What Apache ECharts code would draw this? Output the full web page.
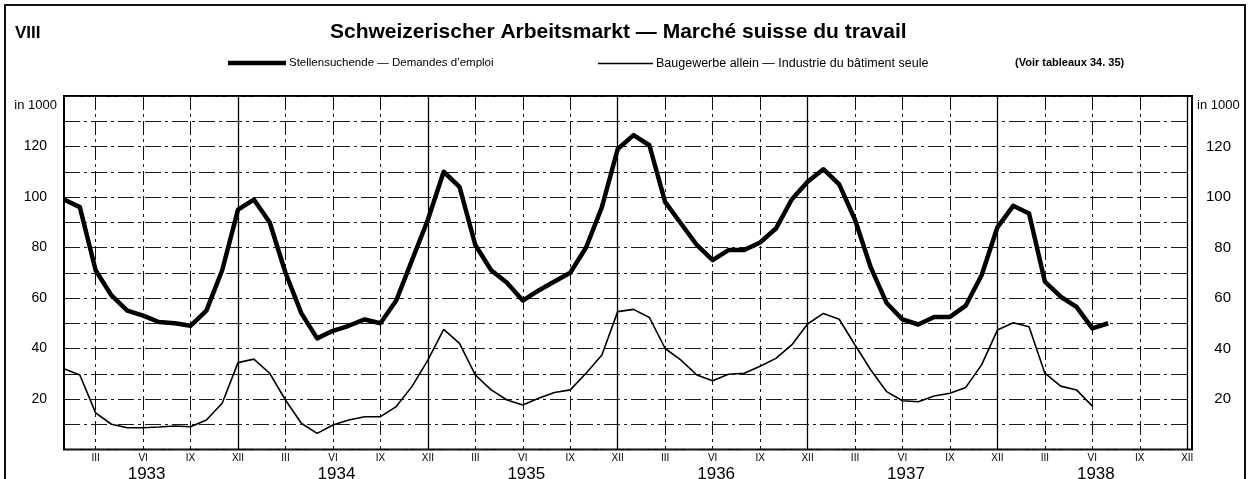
<!DOCTYPE html>
<html><head><meta charset="utf-8">
<script src="https://cdn.jsdelivr.net/npm/echarts@6/dist/echarts.min.js"></script>
<style>
html,body{margin:0;padding:0;background:#fff;}
#c{width:1257px;height:479px;}
#frame{position:absolute;left:4px;top:4px;width:1238px;height:520px;border:2px solid #111;pointer-events:none;z-index:2;}
</style>
</head><body><div id="frame"></div><div id="c"></div>
<script>
// ---- data (thousands) ----
const years = ['1933','1934','1935','1936','1937','1938'];
const quarterMonthIndex = [2, 5, 8, 11];
const quarterLabels = ['III', 'VI', 'IX', 'XII'];
const yLabelTicks = [20, 40, 60, 80, 100, 120];
const unitLabel = 'in 1000';
const seriesNames = ['Stellensuchende — Demandes d\u2019emploi', 'Baugewerbe allein — Industrie du bâtiment seule'];
// Stellensuchende, Jan 1933 .. Jul 1938
const stellensuchende = [
  99, 96, 71, 61, 55, 53, 50.5, 50, 49, 55, 71, 95,
  99, 90, 70, 54, 44, 47, 49, 51.5, 50, 59, 75, 91,
  110, 104, 81, 71, 66, 59, 63, 66.5, 70, 80, 96, 119,
  124.5, 120.5, 98, 89.5, 81, 75, 79, 79, 82, 87.5, 99, 106,
  111, 105, 91, 72, 58, 51.5, 49.5, 52.5, 52.5, 57, 69, 88,
  96.5, 93.5, 66.5, 60.5, 56.5, 48, 50
];
// Baugewerbe allein, Jan 1933 .. Jun 1938
const baugewerbe = [
  32, 29.5, 14.5, 10, 8.6, 8.6, 8.9, 9.3, 9, 11.7, 18.3, 34.4,
  35.8, 30.2, 19.6, 10.4, 6.4, 9.7, 11.7, 13, 13, 17, 25, 35.4,
  47.6, 42, 29.5, 23.6, 19.6, 17.6, 20.3, 22.6, 23.6, 30.2, 37.4, 54.6,
  55.5, 52.3, 40, 35.4, 29.5, 27.2, 29.8, 30.2, 33, 36.1, 41.4, 49.7,
  53.9, 51.6, 41.4, 31.5, 22.9, 19.3, 18.9, 21.2, 22.3, 24.6, 33.5, 47.3,
  50.2, 48.6, 30.2, 25.1, 23.6, 17.2
];

const FONT = "'Liberation Sans', Arial, sans-serif";
const NARROW = "'Liberation Sans Narrow', 'Liberation Sans', Arial, sans-serif";
const chart = echarts.init(document.getElementById('c'), null, {renderer:'canvas'});

const transparent = 'rgba(0,0,0,0)';
const quarterColors = [transparent, transparent, '#111'];
const yearColors = []; for (let i = 0; i < 12; i++) yearColors.push(i === 11 ? '#000' : transparent);

function xLabel(v) {
  const m = Math.round(v);
  if (Math.abs(v - m) > 1e-6) return '';
  const q = quarterMonthIndex.indexOf(m % 12);
  if (q < 0) return '';
  const lab = quarterLabels[q];
  if (m % 12 === 5) return '{r|' + lab + '}\n{y|' + years[Math.floor(m / 12)] + '}';
  return '{r|' + lab + '}';
}
function yLabel(v) {
  if (v === 140) return '{u|' + unitLabel + '}';
  if (yLabelTicks.indexOf(v) >= 0) return '{n|' + v + '}';
  return '';
}

const option = {
  backgroundColor: 'transparent',
  animation: false,
  textStyle: {fontFamily: FONT, color: '#000'},
  title: [
    {text: 'VIII', left: 15, top: 25, padding: 0, textStyle: {fontFamily: NARROW, fontSize: 17, fontWeight: 'bold', color: '#000'}},
    {text: 'Schweizerischer Arbeitsmarkt — Marché suisse du travail', left: 330, top: 22, padding: 0,
     textStyle: {fontFamily: FONT, fontSize: 21, fontWeight: 'bold', color: '#000'}},
    {text: '(Voir tableaux 34. 35)', left: 1015, top: 57, padding: 0,
     textStyle: {fontFamily: NARROW, fontSize: 11, fontWeight: 'bold', color: '#000'}}
  ],
  legend: [
    {data: [seriesNames[0]], left: 228, top: 57, padding: 0, icon: 'rect', itemWidth: 58, itemHeight: 4.5, itemGap: 4,
     textStyle: {fontFamily: FONT, fontSize: 11.5, color: '#000', padding: [0, 0, 0, -2]}, selectedMode: false},
    {data: [seriesNames[1]], left: 598, top: 57, padding: 0, icon: 'rect', itemWidth: 55, itemHeight: 1.5, itemGap: 4,
     textStyle: {fontFamily: FONT, fontSize: 12.5, color: '#000', padding: [0, 0, 0, -2]}, selectedMode: false}
  ],
  grid: {left: 64, right: 65, top: 96, bottom: 29.5, show: true, borderColor: '#000', borderWidth: 2,
         backgroundColor: 'transparent', containLabel: false, outerBoundsMode: 'none'},
  xAxis: [
    {type: 'value', min: 0, max: 71.3, interval: 1, position: 'bottom',
     axisLine: {show: false}, axisTick: {show: false},
     splitLine: {show: true, lineStyle: {color: quarterColors, width: 1, type: [14, 4, 3, 4]}},
     axisLabel: {show: true, margin: 3, formatter: xLabel, color: '#000',
       rich: {r: {fontFamily: NARROW, fontSize: 10, lineHeight: 12, color: '#000'},
              y: {fontFamily: FONT, fontSize: 17, lineHeight: 19, color: '#000', padding: [0, 0, 0, 7]}}}},
    {type: 'value', min: 0, max: 71.3, interval: 1, position: 'top',
     axisLine: {show: false}, axisTick: {show: false}, axisLabel: {show: false},
     splitLine: {show: true, lineStyle: {color: yearColors, width: 1.3, type: 'solid'}}}
  ],
  yAxis: [
    {type: 'value', min: 0, max: 140, interval: 10, position: 'left',
     axisLine: {show: false}, axisTick: {show: false},
     splitLine: {show: true, lineStyle: {color: '#1a1a1a', width: 1, type: [16, 4, 3, 4]}},
     axisLabel: {margin: 7, formatter: yLabel, color: '#000',
       rich: {n: {fontFamily: FONT, fontSize: 14, padding: [0, 10, 0, 0], color: '#000'},
              u: {fontFamily: FONT, fontSize: 13, padding: [18, 0, 0, 0], color: '#000'}}}},
    {type: 'value', min: 0, max: 140, interval: 10, position: 'right',
     axisLine: {show: false}, axisTick: {show: false}, splitLine: {show: false},
     axisLabel: {margin: 5, formatter: yLabel, color: '#000',
       rich: {n: {fontFamily: FONT, fontSize: 15, width: 34, align: 'right', color: '#000'},
              u: {fontFamily: FONT, fontSize: 13, padding: [18, 0, 0, 0], color: '#000'}}}}
  ],
  series: [
    {name: seriesNames[0], type: 'line', xAxisIndex: 0, yAxisIndex: 0, symbol: 'none',
     data: stellensuchende.map((v, i) => [i, v]),
     lineStyle: {color: '#000', width: 4.5, join: 'round'}, itemStyle: {color: '#000'}, z: 5},
    {name: seriesNames[1], type: 'line', xAxisIndex: 0, yAxisIndex: 0, symbol: 'none',
     data: baugewerbe.map((v, i) => [i, v]),
     lineStyle: {color: '#000', width: 1.6}, itemStyle: {color: '#000'}, z: 5}
  ]
};
chart.setOption(option);
</script></body></html>
